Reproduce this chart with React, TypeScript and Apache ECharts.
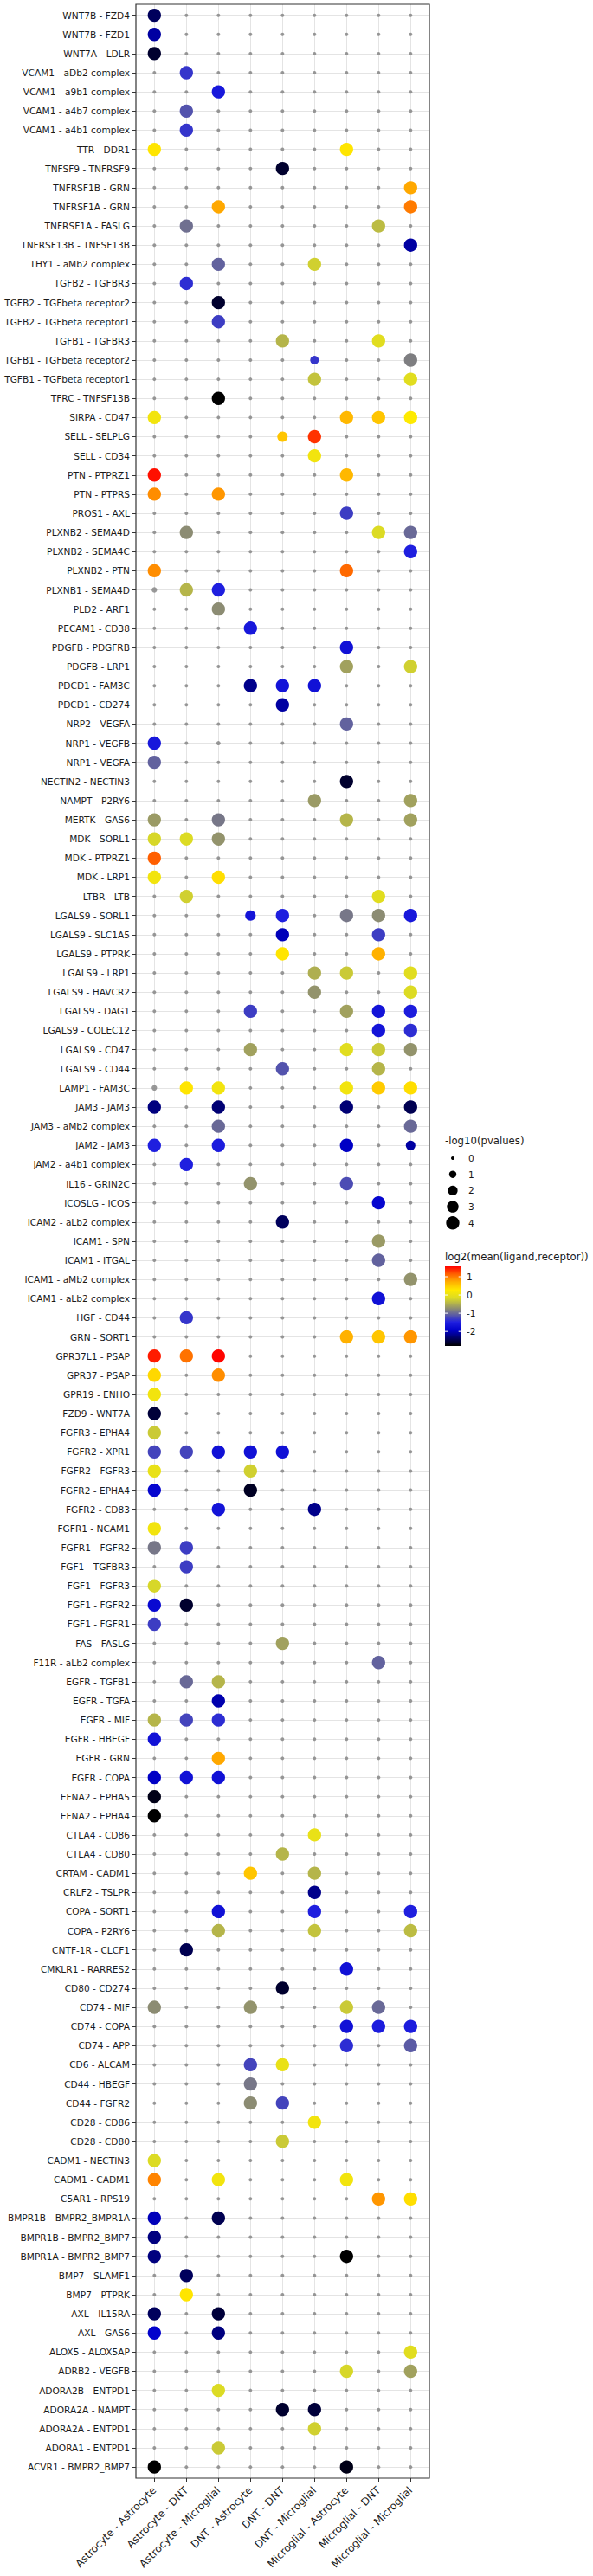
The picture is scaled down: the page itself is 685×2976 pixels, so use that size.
import React, { useEffect, useRef } from "react";
import * as echarts from "echarts";

const groups = [
  "Astrocyte - Astrocyte", "Astrocyte - DNT", "Astrocyte - Microglial",
  "DNT - Astrocyte", "DNT - DNT", "DNT - Microglial",
  "Microglial - Astrocyte", "Microglial - DNT", "Microglial - Microglial",
];

const interactions = [
  "WNT7B - FZD4", "WNT7B - FZD1", "WNT7A - LDLR", "VCAM1 - aDb2 complex", "VCAM1 - a9b1 complex",
  "VCAM1 - a4b7 complex", "VCAM1 - a4b1 complex", "TTR - DDR1", "TNFSF9 - TNFRSF9", "TNFRSF1B - GRN",
  "TNFRSF1A - GRN", "TNFRSF1A - FASLG", "TNFRSF13B - TNFSF13B", "THY1 - aMb2 complex", "TGFB2 - TGFBR3",
  "TGFB2 - TGFbeta receptor2", "TGFB2 - TGFbeta receptor1", "TGFB1 - TGFBR3", "TGFB1 - TGFbeta receptor2",
  "TGFB1 - TGFbeta receptor1", "TFRC - TNFSF13B", "SIRPA - CD47", "SELL - SELPLG", "SELL - CD34",
  "PTN - PTPRZ1", "PTN - PTPRS", "PROS1 - AXL", "PLXNB2 - SEMA4D", "PLXNB2 - SEMA4C", "PLXNB2 - PTN",
  "PLXNB1 - SEMA4D", "PLD2 - ARF1", "PECAM1 - CD38", "PDGFB - PDGFRB", "PDGFB - LRP1", "PDCD1 - FAM3C",
  "PDCD1 - CD274", "NRP2 - VEGFA", "NRP1 - VEGFB", "NRP1 - VEGFA", "NECTIN2 - NECTIN3", "NAMPT - P2RY6",
  "MERTK - GAS6", "MDK - SORL1", "MDK - PTPRZ1", "MDK - LRP1", "LTBR - LTB", "LGALS9 - SORL1",
  "LGALS9 - SLC1A5", "LGALS9 - PTPRK", "LGALS9 - LRP1", "LGALS9 - HAVCR2", "LGALS9 - DAG1",
  "LGALS9 - COLEC12", "LGALS9 - CD47", "LGALS9 - CD44", "LAMP1 - FAM3C", "JAM3 - JAM3",
  "JAM3 - aMb2 complex", "JAM2 - JAM3", "JAM2 - a4b1 complex", "IL16 - GRIN2C", "ICOSLG - ICOS",
  "ICAM2 - aLb2 complex", "ICAM1 - SPN", "ICAM1 - ITGAL", "ICAM1 - aMb2 complex", "ICAM1 - aLb2 complex",
  "HGF - CD44", "GRN - SORT1", "GPR37L1 - PSAP", "GPR37 - PSAP", "GPR19 - ENHO", "FZD9 - WNT7A",
  "FGFR3 - EPHA4", "FGFR2 - XPR1", "FGFR2 - FGFR3", "FGFR2 - EPHA4", "FGFR2 - CD83", "FGFR1 - NCAM1",
  "FGFR1 - FGFR2", "FGF1 - TGFBR3", "FGF1 - FGFR3", "FGF1 - FGFR2", "FGF1 - FGFR1", "FAS - FASLG",
  "F11R - aLb2 complex", "EGFR - TGFB1", "EGFR - TGFA", "EGFR - MIF", "EGFR - HBEGF", "EGFR - GRN",
  "EGFR - COPA", "EFNA2 - EPHA5", "EFNA2 - EPHA4", "CTLA4 - CD86", "CTLA4 - CD80", "CRTAM - CADM1",
  "CRLF2 - TSLPR", "COPA - SORT1", "COPA - P2RY6", "CNTF-1R - CLCF1", "CMKLR1 - RARRES2", "CD80 - CD274",
  "CD74 - MIF", "CD74 - COPA", "CD74 - APP", "CD6 - ALCAM", "CD44 - HBEGF", "CD44 - FGFR2", "CD28 - CD86",
  "CD28 - CD80", "CADM1 - NECTIN3", "CADM1 - CADM1", "C5AR1 - RPS19", "BMPR1B - BMPR2_BMPR1A",
  "BMPR1B - BMPR2_BMP7", "BMPR1A - BMPR2_BMP7", "BMP7 - SLAMF1", "BMP7 - PTPRK", "AXL - IL15RA",
  "AXL - GAS6", "ALOX5 - ALOX5AP", "ADRB2 - VEGFB", "ADORA2B - ENTPD1", "ADORA2A - NAMPT",
  "ADORA2A - ENTPD1", "ADORA1 - ENTPD1", "ACVR1 - BMPR2_BMP7",
];

// [interaction, group index, log2(mean(ligand,receptor)), -log10(pvalue)]
const dots: [string, number, number, number][] = [
  ["WNT7B - FZD4", 0, -2.4, 4], ["WNT7B - FZD1", 0, -2.1, 4], ["WNT7A - LDLR", 0, -2.6, 4],
  ["VCAM1 - aDb2 complex", 1, -1.35, 4], ["VCAM1 - a9b1 complex", 2, -1.6, 4],
  ["VCAM1 - a4b7 complex", 1, -1.15, 4], ["VCAM1 - a4b1 complex", 1, -1.35, 4],
  ["TTR - DDR1", 0, 0.3, 4], ["TTR - DDR1", 6, 0.3, 4],
  ["TNFSF9 - TNFRSF9", 4, -2.6, 4], ["TNFRSF1B - GRN", 8, 0.75, 4],
  ["TNFRSF1A - GRN", 2, 0.75, 4], ["TNFRSF1A - GRN", 8, 1.0, 4],
  ["TNFRSF1A - FASLG", 1, -0.95, 4], ["TNFRSF1A - FASLG", 7, -0.4, 4],
  ["TNFRSF13B - TNFSF13B", 8, -2.1, 4],
  ["THY1 - aMb2 complex", 2, -1.05, 4], ["THY1 - aMb2 complex", 5, -0.25, 4],
  ["TGFB2 - TGFBR3", 1, -1.4, 4], ["TGFB2 - TGFbeta receptor2", 2, -2.6, 4],
  ["TGFB2 - TGFbeta receptor1", 2, -1.3, 4],
  ["TGFB1 - TGFBR3", 4, -0.45, 4], ["TGFB1 - TGFBR3", 7, -0.1, 4],
  ["TGFB1 - TGFbeta receptor2", 5, -1.35, 1.5], ["TGFB1 - TGFbeta receptor2", 8, -0.85, 4],
  ["TGFB1 - TGFbeta receptor1", 5, -0.35, 4], ["TGFB1 - TGFbeta receptor1", 8, -0.1, 4],
  ["TFRC - TNFSF13B", 2, -2.8, 4],
  ["SIRPA - CD47", 0, 0.1, 4], ["SIRPA - CD47", 6, 0.65, 4], ["SIRPA - CD47", 7, 0.55, 4], ["SIRPA - CD47", 8, 0.25, 4],
  ["SELL - SELPLG", 4, 0.55, 2.3], ["SELL - SELPLG", 5, 1.35, 4], ["SELL - CD34", 5, 0.1, 4],
  ["PTN - PTPRZ1", 0, 1.5, 4], ["PTN - PTPRZ1", 6, 0.65, 4],
  ["PTN - PTPRS", 0, 0.9, 4], ["PTN - PTPRS", 2, 0.85, 4],
  ["PROS1 - AXL", 6, -1.3, 4],
  ["PLXNB2 - SEMA4D", 1, -0.75, 4], ["PLXNB2 - SEMA4D", 7, -0.15, 4], ["PLXNB2 - SEMA4D", 8, -1.0, 4],
  ["PLXNB2 - SEMA4C", 8, -1.5, 4], ["PLXNB2 - PTN", 0, 0.9, 4], ["PLXNB2 - PTN", 6, 1.1, 4],
  ["PLXNB1 - SEMA4D", 1, -0.45, 4], ["PLXNB1 - SEMA4D", 2, -1.5, 4],
  ["PLD2 - ARF1", 2, -0.75, 4], ["PECAM1 - CD38", 3, -1.6, 4], ["PDGFB - PDGFRB", 6, -1.7, 4],
  ["PDGFB - LRP1", 6, -0.6, 4], ["PDGFB - LRP1", 8, -0.25, 4],
  ["PDCD1 - FAM3C", 3, -2.2, 4], ["PDCD1 - FAM3C", 4, -1.65, 4], ["PDCD1 - FAM3C", 5, -1.7, 4],
  ["PDCD1 - CD274", 4, -2.1, 4], ["NRP2 - VEGFA", 6, -1.05, 4],
  ["NRP1 - VEGFB", 0, -1.6, 4], ["NRP1 - VEGFA", 0, -1.05, 4], ["NECTIN2 - NECTIN3", 6, -2.6, 4],
  ["NAMPT - P2RY6", 5, -0.65, 4], ["NAMPT - P2RY6", 8, -0.6, 4],
  ["MERTK - GAS6", 0, -0.65, 4], ["MERTK - GAS6", 2, -0.9, 4], ["MERTK - GAS6", 6, -0.45, 4], ["MERTK - GAS6", 8, -0.6, 4],
  ["MDK - SORL1", 0, -0.2, 4], ["MDK - SORL1", 1, -0.15, 4], ["MDK - SORL1", 2, -0.7, 4],
  ["MDK - PTPRZ1", 0, 1.15, 4], ["MDK - LRP1", 0, 0.1, 4], ["MDK - LRP1", 2, 0.35, 4],
  ["LTBR - LTB", 1, -0.25, 4], ["LTBR - LTB", 7, -0.1, 4],
  ["LGALS9 - SORL1", 3, -1.65, 2.4], ["LGALS9 - SORL1", 4, -1.5, 4], ["LGALS9 - SORL1", 6, -0.9, 4],
  ["LGALS9 - SORL1", 7, -0.75, 4], ["LGALS9 - SORL1", 8, -1.6, 4],
  ["LGALS9 - SLC1A5", 4, -2.0, 4], ["LGALS9 - SLC1A5", 7, -1.3, 4],
  ["LGALS9 - PTPRK", 4, 0.3, 4], ["LGALS9 - PTPRK", 7, 0.7, 4],
  ["LGALS9 - LRP1", 5, -0.5, 4], ["LGALS9 - LRP1", 6, -0.3, 4], ["LGALS9 - LRP1", 8, -0.1, 4],
  ["LGALS9 - HAVCR2", 5, -0.7, 4], ["LGALS9 - HAVCR2", 8, -0.15, 4],
  ["LGALS9 - DAG1", 3, -1.3, 4], ["LGALS9 - DAG1", 6, -0.6, 4], ["LGALS9 - DAG1", 7, -1.65, 4], ["LGALS9 - DAG1", 8, -1.55, 4],
  ["LGALS9 - COLEC12", 7, -1.65, 4], ["LGALS9 - COLEC12", 8, -1.4, 4],
  ["LGALS9 - CD47", 3, -0.6, 4], ["LGALS9 - CD47", 6, -0.1, 4], ["LGALS9 - CD47", 7, -0.3, 4], ["LGALS9 - CD47", 8, -0.7, 4],
  ["LGALS9 - CD44", 4, -1.15, 4], ["LGALS9 - CD44", 7, -0.45, 4],
  ["LAMP1 - FAM3C", 1, 0.3, 4], ["LAMP1 - FAM3C", 2, 0.1, 4], ["LAMP1 - FAM3C", 6, 0.1, 4],
  ["LAMP1 - FAM3C", 7, 0.5, 4], ["LAMP1 - FAM3C", 8, 0.35, 4],
  ["JAM3 - JAM3", 0, -2.25, 4], ["JAM3 - JAM3", 2, -2.3, 4], ["JAM3 - JAM3", 6, -2.3, 4], ["JAM3 - JAM3", 8, -2.45, 4],
  ["JAM3 - aMb2 complex", 2, -1.0, 4], ["JAM3 - aMb2 complex", 8, -1.0, 4],
  ["JAM2 - JAM3", 0, -1.5, 4], ["JAM2 - JAM3", 2, -1.55, 4], ["JAM2 - JAM3", 6, -1.95, 4], ["JAM2 - JAM3", 8, -2.1, 1.9],
  ["JAM2 - a4b1 complex", 1, -1.5, 4],
  ["IL16 - GRIN2C", 3, -0.7, 4], ["IL16 - GRIN2C", 6, -1.2, 4],
  ["ICOSLG - ICOS", 7, -1.85, 4], ["ICAM2 - aLb2 complex", 4, -2.4, 4],
  ["ICAM1 - SPN", 7, -0.65, 4], ["ICAM1 - ITGAL", 7, -1.05, 4],
  ["ICAM1 - aMb2 complex", 8, -0.7, 4], ["ICAM1 - aLb2 complex", 7, -1.7, 4],
  ["HGF - CD44", 1, -1.35, 4],
  ["GRN - SORT1", 6, 0.7, 4], ["GRN - SORT1", 7, 0.55, 4], ["GRN - SORT1", 8, 0.85, 4],
  ["GPR37L1 - PSAP", 0, 1.45, 4], ["GPR37L1 - PSAP", 1, 1.05, 4], ["GPR37L1 - PSAP", 2, 1.55, 4],
  ["GPR37 - PSAP", 0, 0.4, 4], ["GPR37 - PSAP", 2, 0.9, 4],
  ["GPR19 - ENHO", 0, 0.1, 4], ["FZD9 - WNT7A", 0, -2.55, 4], ["FGFR3 - EPHA4", 0, -0.3, 4],
  ["FGFR2 - XPR1", 0, -1.25, 4], ["FGFR2 - XPR1", 1, -1.25, 4], ["FGFR2 - XPR1", 2, -1.7, 4],
  ["FGFR2 - XPR1", 3, -1.7, 4], ["FGFR2 - XPR1", 4, -1.7, 4],
  ["FGFR2 - FGFR3", 0, 0.0, 4], ["FGFR2 - FGFR3", 3, -0.25, 4],
  ["FGFR2 - EPHA4", 0, -1.85, 4], ["FGFR2 - EPHA4", 3, -2.65, 4],
  ["FGFR2 - CD83", 2, -1.65, 4], ["FGFR2 - CD83", 5, -2.2, 4],
  ["FGFR1 - NCAM1", 0, 0.1, 4], ["FGFR1 - FGFR2", 0, -0.9, 4], ["FGFR1 - FGFR2", 1, -1.3, 4],
  ["FGF1 - TGFBR3", 1, -1.3, 4], ["FGF1 - FGFR3", 0, -0.2, 4],
  ["FGF1 - FGFR2", 0, -1.8, 4], ["FGF1 - FGFR2", 1, -2.6, 4], ["FGF1 - FGFR1", 0, -1.3, 4],
  ["FAS - FASLG", 4, -0.6, 4], ["F11R - aLb2 complex", 7, -1.05, 4],
  ["EGFR - TGFB1", 1, -1.0, 4], ["EGFR - TGFB1", 2, -0.45, 4], ["EGFR - TGFA", 2, -2.05, 4],
  ["EGFR - MIF", 0, -0.45, 4], ["EGFR - MIF", 1, -1.25, 4], ["EGFR - MIF", 2, -1.4, 4],
  ["EGFR - HBEGF", 0, -1.7, 4], ["EGFR - GRN", 2, 0.75, 4],
  ["EGFR - COPA", 0, -1.95, 4], ["EGFR - COPA", 1, -1.7, 4], ["EGFR - COPA", 2, -1.7, 4],
  ["EFNA2 - EPHA5", 0, -2.7, 4], ["EFNA2 - EPHA4", 0, -2.8, 4],
  ["CTLA4 - CD86", 5, 0.0, 4], ["CTLA4 - CD80", 4, -0.45, 4],
  ["CRTAM - CADM1", 3, 0.55, 4], ["CRTAM - CADM1", 5, -0.45, 4], ["CRLF2 - TSLPR", 5, -2.2, 4],
  ["COPA - SORT1", 2, -1.7, 4], ["COPA - SORT1", 5, -1.5, 4], ["COPA - SORT1", 8, -1.5, 4],
  ["COPA - P2RY6", 2, -0.45, 4], ["COPA - P2RY6", 5, -0.35, 4], ["COPA - P2RY6", 8, -0.4, 4],
  ["CNTF-1R - CLCF1", 1, -2.45, 4], ["CMKLR1 - RARRES2", 6, -1.7, 4], ["CD80 - CD274", 4, -2.6, 4],
  ["CD74 - MIF", 0, -0.75, 4], ["CD74 - MIF", 3, -0.7, 4], ["CD74 - MIF", 6, -0.3, 4], ["CD74 - MIF", 7, -1.0, 4],
  ["CD74 - COPA", 6, -1.7, 4], ["CD74 - COPA", 7, -1.55, 4], ["CD74 - COPA", 8, -1.55, 4],
  ["CD74 - APP", 6, -1.4, 4], ["CD74 - APP", 8, -1.1, 4],
  ["CD6 - ALCAM", 3, -1.25, 4], ["CD6 - ALCAM", 4, 0.0, 4], ["CD44 - HBEGF", 3, -0.9, 4],
  ["CD44 - FGFR2", 3, -0.75, 4], ["CD44 - FGFR2", 4, -1.25, 4],
  ["CD28 - CD86", 5, 0.1, 4], ["CD28 - CD80", 4, -0.3, 4], ["CADM1 - NECTIN3", 0, -0.15, 4],
  ["CADM1 - CADM1", 0, 0.95, 4], ["CADM1 - CADM1", 2, 0.1, 4], ["CADM1 - CADM1", 6, 0.1, 4],
  ["C5AR1 - RPS19", 7, 0.85, 4], ["C5AR1 - RPS19", 8, 0.35, 4],
  ["BMPR1B - BMPR2_BMPR1A", 0, -2.0, 4], ["BMPR1B - BMPR2_BMPR1A", 2, -2.45, 4],
  ["BMPR1B - BMPR2_BMP7", 0, -2.25, 4],
  ["BMPR1A - BMPR2_BMP7", 0, -2.25, 4], ["BMPR1A - BMPR2_BMP7", 6, -2.8, 4],
  ["BMP7 - SLAMF1", 1, -2.4, 4], ["BMP7 - PTPRK", 1, 0.3, 4],
  ["AXL - IL15RA", 0, -2.4, 4], ["AXL - IL15RA", 2, -2.55, 4],
  ["AXL - GAS6", 0, -1.9, 4], ["AXL - GAS6", 2, -2.25, 4],
  ["ALOX5 - ALOX5AP", 8, -0.1, 4], ["ADRB2 - VEGFB", 6, -0.2, 4], ["ADRB2 - VEGFB", 8, -0.6, 4],
  ["ADORA2B - ENTPD1", 2, -0.15, 4],
  ["ADORA2A - NAMPT", 4, -2.6, 4], ["ADORA2A - NAMPT", 5, -2.55, 4],
  ["ADORA2A - ENTPD1", 5, -0.25, 4], ["ADORA1 - ENTPD1", 2, -0.3, 4],
  ["ACVR1 - BMPR2_BMP7", 0, -2.8, 4], ["ACVR1 - BMPR2_BMP7", 6, -2.7, 4],
];

// grey (no mean value) cells with a non-zero -log10(pvalue)
const greyDots: [string, number, number][] = [
  ["PLXNB1 - SEMA4D", 0, 0.45], ["LAMP1 - FAM3C", 0, 0.45], ["NRP1 - VEGFB", 2, 0.16],
];

const sizeLegendValues = [0, 1, 2, 3, 4];
const colorTickValues = [1, 0, -1, -2];
const colorMin = -2.8;
const colorMax = 1.57;
const colorRamp = [
  "#000000", "#000065", "#0000cb", "#2020e0", "#62629e", "#9f9f60",
  "#dada26", "#ffea00", "#ffb200", "#ff6300", "#ff0000",
];

const FONT = "DejaVu Sans";
const dotSize = (p: number) => Math.sqrt(16 + 55 * p);

export default function App() {
  const ref = useRef<HTMLDivElement>(null);
  useEffect(() => {
    if (!ref.current) return;
    const chart = echarts.init(ref.current, undefined, { renderer: "svg" });

    const rowIdx = new Map(interactions.map((n, i) => [n, i]));
    const sigKey = new Set(dots.map((d) => d[0] + "|" + d[1]));
    const greyP = new Map(greyDots.map((g) => [g[0] + "|" + g[1], g[2]]));
    const greyData: number[][] = [];
    interactions.forEach((name, r) => {
      groups.forEach((_, c) => {
        const k = name + "|" + c;
        if (!sigKey.has(k)) greyData.push([c, r, greyP.get(k) ?? 0]);
      });
    });
    const sigData = dots.map((d) => [d[1], rowIdx.get(d[0]) as number, d[2], d[3]]);

    const frame = { x: 157, y: 5, w: 339, h: 2858 };
    const grid = { left: 159.8, top: 6.6, right: 685 - 492.8, bottom: 2976 - 2861.2 };

    const lgX = 514;
    const graphics: any[] = [
      {
        type: "rect", z: 100, silent: true,
        shape: { x: frame.x, y: frame.y, width: frame.w, height: frame.h },
        style: { fill: "none", stroke: "#333333", lineWidth: 1.2 },
      },
      {
        type: "text", x: lgX, y: 1318,
        style: { text: "-log10(pvalues)", font: `11.7px "${FONT}"`, fill: "#1a1a1a", verticalAlign: "middle" },
      },
    ];
    sizeLegendValues.forEach((v, i) => {
      const cy = 1338 + i * 18.7;
      graphics.push({
        type: "circle", shape: { cx: 523, cy, r: dotSize(v) / 2 }, style: { fill: "#000000" },
      });
      graphics.push({
        type: "text", x: 541, y: cy,
        style: { text: String(v), font: `10.6px "${FONT}"`, fill: "#1a1a1a", verticalAlign: "middle" },
      });
    });
    const cb = { x: 514, y: 1463, w: 18.7, h: 92 };
    graphics.push({
      type: "text", x: lgX, y: 1452,
      style: { text: "log2(mean(ligand,receptor))", font: `11.7px "${FONT}"`, fill: "#1a1a1a", verticalAlign: "middle" },
    });
    const stops = colorRamp.map((c, i) => ({ offset: 1 - i / (colorRamp.length - 1), color: c }));
    stops.reverse();
    graphics.push({
      type: "rect", shape: { x: cb.x, y: cb.y, width: cb.w, height: cb.h },
      style: { fill: new echarts.graphic.LinearGradient(0, 0, 0, 1, stops) },
    });
    colorTickValues.forEach((v) => {
      const ty = cb.y + ((colorMax - v) / (colorMax - colorMin)) * cb.h;
      graphics.push({ type: "line", shape: { x1: cb.x, y1: ty, x2: cb.x + 3, y2: ty }, style: { stroke: "#ffffff", lineWidth: 1 } });
      graphics.push({ type: "line", shape: { x1: cb.x + cb.w - 3, y1: ty, x2: cb.x + cb.w, y2: ty }, style: { stroke: "#ffffff", lineWidth: 1 } });
      graphics.push({
        type: "text", x: 539, y: ty,
        style: { text: String(v), font: `10.6px "${FONT}"`, fill: "#1a1a1a", verticalAlign: "middle" },
      });
    });

    chart.setOption({
      animation: false,
      backgroundColor: "#ffffff",
      textStyle: { fontFamily: FONT },
      grid: { ...grid, containLabel: false },
      xAxis: [
        {
          type: "category", data: groups, position: "bottom", offset: 1.8,
          axisLine: { show: false },
          axisTick: { show: true, alignWithLabel: true, interval: 0, length: 4, lineStyle: { color: "#333333" } },
          axisLabel: { interval: 0, rotate: 45, fontSize: 12, color: "#1a1a1a", margin: 12, fontFamily: FONT },
          splitLine: { show: false },
        },
        {
          type: "category", data: groups, position: "bottom", offset: 1.8,
          axisLine: { show: false }, axisLabel: { show: false },
          axisTick: { show: true, inside: true, alignWithLabel: true, interval: 0, length: frame.h, lineStyle: { color: "#e4e4e4", width: 1 } },
          splitLine: { show: false },
        },
      ],
      yAxis: [
        {
          type: "category", data: interactions, inverse: true, position: "left", offset: 2.8,
          axisLine: { show: false },
          axisTick: { show: true, alignWithLabel: true, interval: 0, length: 4, lineStyle: { color: "#333333" } },
          axisLabel: { interval: 0, fontSize: 10.6, color: "#1a1a1a", margin: 7, fontFamily: FONT },
          splitLine: { show: false },
        },
        {
          type: "category", data: interactions, inverse: true, position: "left", offset: 2.8,
          axisLine: { show: false }, axisLabel: { show: false },
          axisTick: { show: true, inside: true, alignWithLabel: true, interval: 0, length: frame.w, lineStyle: { color: "#e4e4e4", width: 1 } },
          splitLine: { show: false },
        },
      ],
      visualMap: {
        type: "continuous", show: false, min: colorMin, max: colorMax,
        dimension: 2, seriesIndex: 1, inRange: { color: colorRamp },
      },
      series: [
        {
          type: "scatter", xAxisIndex: 0, yAxisIndex: 0, data: greyData,
          symbolSize: (v: number[]) => dotSize(v[2]),
          itemStyle: { color: "#808080" }, z: 3, silent: true,
        },
        {
          type: "scatter", xAxisIndex: 0, yAxisIndex: 0, data: sigData,
          symbolSize: (v: number[]) => dotSize(v[3]),
          itemStyle: { opacity: 1 }, z: 4, silent: true,
        },
      ],
      graphic: graphics,
    });
    return () => chart.dispose();
  }, []);
  return <div ref={ref} style={{ position: "absolute", left: 0, top: 0, width: 685, height: 2976, background: "#fff" }} />;
}
